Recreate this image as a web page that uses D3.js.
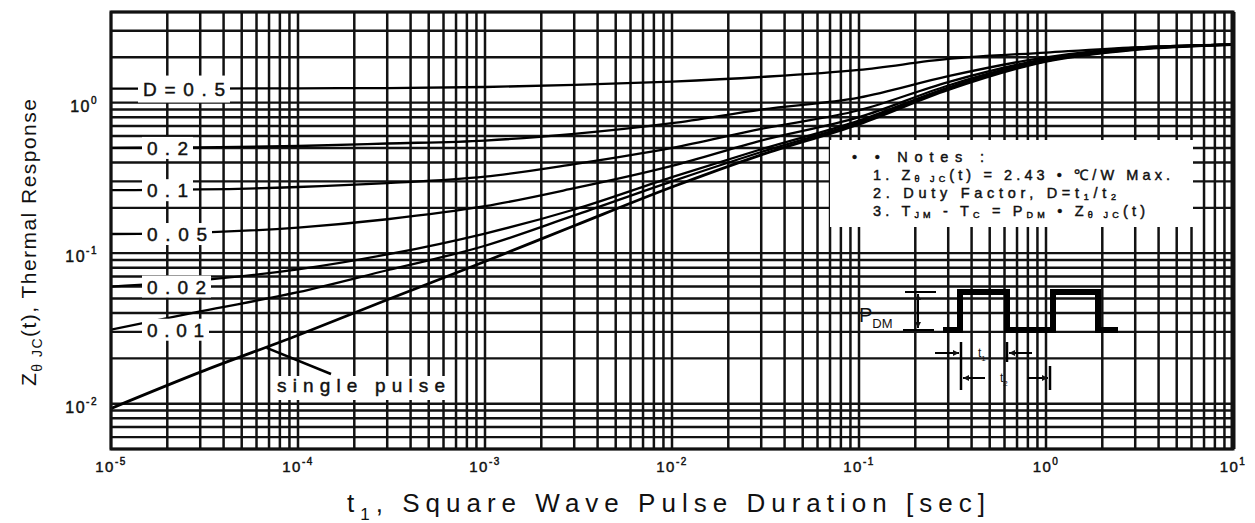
<!DOCTYPE html>
<html>
<head>
<meta charset="utf-8">
<script src="https://cdn.jsdelivr.net/npm/d3@7"></script>
<style>
    body { margin: 0; background: #fff; }
    svg { display: block; }
    text { font-family: "Liberation Sans", Arial, sans-serif; fill: #111; }
    .heavy { stroke: #111; stroke-width: 0.45px; }
</style>
</head>
<body>
<script>
// pulse duration t1 [sec]
const tValues = [1e-5, 3e-5, 1e-4, 3e-4, 1e-3, 3e-3, 1e-2, 3e-2, 1e-1, 3e-1, 1, 3, 10]

// Z_thetaJC(t) [degC/W]
const zD50   = [1.24, 1.24, 1.245, 1.25, 1.27, 1.31, 1.38, 1.48, 1.65, 1.95, 2.15, 2.33, 2.43]
const zD20   = [0.50, 0.505, 0.515, 0.535, 0.56, 0.62, 0.73, 0.90, 1.08, 1.50, 2.00, 2.32, 2.43]
const zD10   = [0.262, 0.265, 0.275, 0.292, 0.322, 0.39, 0.50, 0.67, 0.89, 1.37, 1.95, 2.30, 2.43]
const zD05   = [0.134, 0.137, 0.148, 0.168, 0.205, 0.27, 0.38, 0.56, 0.80, 1.30, 1.92, 2.28, 2.43]
const zD02   = [0.060, 0.066, 0.078, 0.098, 0.135, 0.195, 0.32, 0.49, 0.76, 1.26, 1.90, 2.27, 2.43]
const zD01   = [0.031, 0.041, 0.055, 0.077, 0.112, 0.178, 0.30, 0.47, 0.74, 1.24, 1.89, 2.26, 2.43]
const zSingle = [0.0093, 0.0162, 0.0285, 0.049, 0.088, 0.152, 0.275, 0.45, 0.72, 1.22, 1.88, 2.25, 2.43]

const seriesNames = ["D=0.5", "0.2", "0.1", "0.05", "0.02", "0.01", "single pulse"]
const seriesValues = [zD50, zD20, zD10, zD05, zD02, zD01, zSingle]

const xTickValues = [1e-5, 1e-4, 1e-3, 1e-2, 1e-1, 1, 10]
const xTickExps = ["-5", "-4", "-3", "-2", "-1", "0", "1"]
const yTickValues = [1, 0.1, 0.01]
const yTickExps = ["0", "-1", "-2"]

// where the single pulse leader touches its curve
const singleLeader = {t: 6.8e-5, z: 0.0235}

const W = 1255, H = 523
const ivp = {x: 111, y: 12, w: 1233, h: 449}

const xScale = d3.scaleLog().domain([1e-5, 10]).range([ivp.x, ivp.w])
const yScale = d3.scaleLog().domain([0.005, 4]).range([ivp.h, ivp.y])

const svg = d3.select("body").append("svg")
    .attr("width", W)
    .attr("height", H)

const defs = svg.append("defs")
defs.append("clipPath").attr("id", "plotclip")
    .append("rect")
    .attr("x", ivp.x).attr("y", ivp.y)
    .attr("width", ivp.w - ivp.x).attr("height", ivp.h - ivp.y)
defs.append("marker")
    .attr("id", "arr")
    .attr("viewBox", "0 0 10 10")
    .attr("refX", 10).attr("refY", 5)
    .attr("markerWidth", 7).attr("markerHeight", 6)
    .attr("markerUnits", "userSpaceOnUse")
    .attr("orient", "auto")
    .append("path").attr("d", "M0,0L10,5L0,10z").attr("fill", "#111")

// builds text out of [string, "sub"|"sup"|undefined] parts
function richText(sel, parts, size, subDrop = 0.3) {
    let shift = 0
    parts.forEach(p => {
        const kind = p[1]
        const target = kind === "sub" ? size * subDrop : kind === "sup" ? -size * 0.5 : 0
        const ts = sel.append("tspan").text(p[0]).attr("dy", target - shift)
        if (kind) ts.attr("font-size", Math.round(size * 0.65))
        shift = target
    })
    return sel
}

// spread the letters so the text covers a given width
function fitWidth(sel, width) {
    const node = sel.node()
    const n = node.getNumberOfChars()
    const w = node.getComputedTextLength()
    sel.attr("letter-spacing", ((width - w) / Math.max(1, n - 1)).toFixed(2))
}

// grid
const grid = svg.append("g").attr("stroke", "#121212")
grid.selectAll("line.v")
    .data(xScale.ticks())
    .enter().append("line")
    .attr("x1", d => xScale(d)).attr("x2", d => xScale(d))
    .attr("y1", ivp.y).attr("y2", ivp.h)
    .attr("stroke-width", 2.5)
grid.selectAll("line.h")
    .data(yScale.ticks())
    .enter().append("line")
    .attr("x1", ivp.x).attr("x2", ivp.w)
    .attr("y1", d => yScale(d)).attr("y2", d => yScale(d))
    .attr("stroke-width", 2.4)

// curves
const line = d3.line()
    .x((d, i) => xScale(tValues[i]))
    .y(d => yScale(d))
    .curve(d3.curveMonotoneX)

svg.append("g").attr("clip-path", "url(#plotclip)")
    .selectAll("path")
    .data(seriesValues)
    .enter().append("path")
    .attr("d", line)
    .attr("fill", "none")
    .attr("stroke", "#000")
    .attr("stroke-width", (d, i) => i === 6 ? 2.8 : 2.3)

// frame
svg.append("rect")
    .attr("x", ivp.x).attr("y", ivp.y)
    .attr("width", ivp.w - ivp.x).attr("height", ivp.h - ivp.y)
    .attr("fill", "none").attr("stroke", "#111").attr("stroke-width", 3)
svg.append("line")
    .attr("x1", ivp.w).attr("x2", ivp.w).attr("y1", ivp.y).attr("y2", ivp.h)
    .attr("stroke", "#111").attr("stroke-width", 5)

// curve labels on white boxes
const labelWidths = [82, 41, 41, 60, 59, 57]
const labels = svg.append("g")
seriesNames.slice(0, 6).forEach((name, i) => {
    const y = yScale(seriesValues[i][0])
    const x = i === 0 ? 143 : 147
    labels.append("rect")
        .attr("x", x - 5).attr("y", y - (i === 0 ? 13 : 11))
        .attr("width", labelWidths[i] + 10).attr("height", i === 0 ? 27 : 22)
        .attr("fill", "#fff")
    const t = labels.append("text")
        .attr("class", "heavy")
        .attr("x", x).attr("y", y + 7)
        .attr("font-size", 19)
        .text(name)
    fitWidth(t, labelWidths[i])
})

// single pulse label and leader
const lx = xScale(singleLeader.t), ly = yScale(singleLeader.z)
labels.append("rect")
    .attr("x", 272).attr("y", 376).attr("width", 178).attr("height", 24)
    .attr("fill", "#fff")
const sp = labels.append("text")
    .attr("class", "heavy")
    .attr("x", 277).attr("y", 392)
    .attr("font-size", 19)
    .text(seriesNames[6])
fitWidth(sp, 168)
labels.append("line")
    .attr("x1", lx).attr("y1", ly).attr("x2", 331).attr("y2", 374)
    .attr("stroke", "#000").attr("stroke-width", 2.6)

// tick labels
svg.append("g").selectAll("text")
    .data(xTickValues)
    .enter().append("text")
    .attr("class", "heavy")
    .attr("x", d => xScale(d)).attr("y", 472)
    .attr("text-anchor", "middle")
    .attr("font-size", 15)
    .attr("letter-spacing", 1.5)
    .each(function (d, i) { richText(d3.select(this), [["10"], [xTickExps[i], "sup"]], 15) })

svg.append("g").selectAll("text")
    .data(yTickValues)
    .enter().append("text")
    .attr("class", "heavy")
    .attr("x", 98).attr("y", d => yScale(d) + 9)
    .attr("text-anchor", "end")
    .attr("font-size", 16)
    .attr("letter-spacing", 1.5)
    .each(function (d, i) { richText(d3.select(this), [["10"], [yTickExps[i], "sup"]], 16) })

// axis titles
const xt = richText(svg.append("text").attr("x", 347).attr("y", 512).attr("font-size", 26),
    [["t"], ["1", "sub"], [", Square Wave Pulse Duration [sec]"]], 26)
fitWidth(xt, 638)

const yt = richText(svg.append("text")
        .attr("transform", "translate(36,386) rotate(-90)")
        .attr("font-size", 21),
    [["Z"], ["θ JC", "sub"], ["(t), Thermal Response"]], 21)
fitWidth(yt, 287)

// notes box
const notes = svg.append("g")
notes.append("rect")
    .attr("x", 830).attr("y", 140).attr("width", 363).attr("height", 87)
    .attr("fill", "#fff")
const noteLines = [
    {x: 852, y: 162, w: 132, parts: [["• • Notes :"]]},
    {x: 873, y: 180, w: 297, parts: [["1. Z"], ["θ JC", "sub"], ["(t) = 2.43 • ℃/W Max."]]},
    {x: 873, y: 198, w: 243, parts: [["2. Duty Factor, D=t"], ["1", "sub"], ["/t"], ["2", "sub"]]},
    {x: 873, y: 216, w: 272, parts: [["3. T"], ["JM", "sub"], [" - T"], ["C", "sub"], [" = P"], ["DM", "sub"], [" • Z"], ["θ JC", "sub"], ["(t)"]]}
]
noteLines.forEach(n => {
    const t = richText(notes.append("text").attr("class", "heavy")
        .attr("x", n.x).attr("y", n.y).attr("font-size", 14.5), n.parts, 14.5, 0.15)
    fitWidth(t, n.w)
})

// pulse sketch
const wave = [[943, 330], [960, 330], [960, 292], [1007, 292], [1007, 330], [1053, 330],
    [1053, 292], [1098, 292], [1098, 330], [1118, 330]]
const sk = svg.append("g").attr("stroke", "#000")
sk.append("path")
    .attr("d", d3.line()(wave))
    .attr("fill", "none").attr("stroke-width", 6).attr("stroke-linejoin", "miter")
sk.append("line").attr("x1", 905).attr("x2", 936).attr("y1", 292).attr("y2", 292).attr("stroke-width", 2)
sk.append("line").attr("x1", 903).attr("x2", 934).attr("y1", 330).attr("y2", 330).attr("stroke-width", 2)
sk.append("line").attr("x1", 918).attr("x2", 918).attr("y1", 311).attr("y2", 294)
    .attr("stroke-width", 2).attr("marker-end", "url(#arr)")
sk.append("line").attr("x1", 918).attr("x2", 918).attr("y1", 311).attr("y2", 328)
    .attr("stroke-width", 2).attr("marker-end", "url(#arr)")
sk.append("line").attr("x1", 961).attr("x2", 961).attr("y1", 342).attr("y2", 390).attr("stroke-width", 2.5)
sk.append("line").attr("x1", 1007).attr("x2", 1007).attr("y1", 342).attr("y2", 362).attr("stroke-width", 2.5)
sk.append("line").attr("x1", 1050).attr("x2", 1050).attr("y1", 366).attr("y2", 390).attr("stroke-width", 2.5)
sk.append("line").attr("x1", 935).attr("x2", 959).attr("y1", 353).attr("y2", 353)
    .attr("stroke-width", 2).attr("marker-end", "url(#arr)")
sk.append("line").attr("x1", 1032).attr("x2", 1009).attr("y1", 353).attr("y2", 353)
    .attr("stroke-width", 2).attr("marker-end", "url(#arr)")
sk.append("line").attr("x1", 985).attr("x2", 963).attr("y1", 378).attr("y2", 378)
    .attr("stroke-width", 2).attr("marker-end", "url(#arr)")
sk.append("line").attr("x1", 1028).attr("x2", 1048).attr("y1", 378).attr("y2", 378)
    .attr("stroke-width", 2).attr("marker-end", "url(#arr)")

richText(svg.append("text").attr("x", 859).attr("y", 322).attr("font-size", 20),
    [["P"], ["DM", "sub"]], 20)
richText(svg.append("text").attr("x", 978).attr("y", 357).attr("font-size", 12),
    [["t"], ["1", "sub"]], 12)
richText(svg.append("text").attr("x", 1000).attr("y", 382).attr("font-size", 12),
    [["t"], ["2", "sub"]], 12)
</script>
</body>
</html>
